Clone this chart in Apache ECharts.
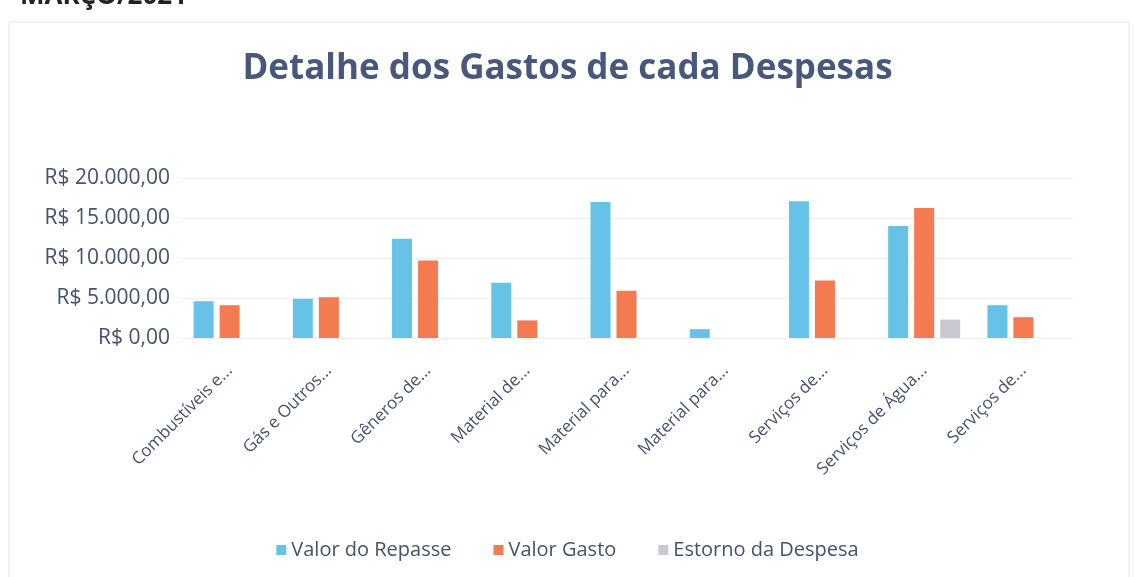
<!DOCTYPE html>
<html>
<head>
<meta charset="utf-8">
<script src="https://cdn.jsdelivr.net/npm/echarts@6/dist/echarts.min.js"></script>
<style>
  html, body { margin: 0; padding: 0; background: #fff; }
  #chart { width: 1135px; height: 577px; }
</style>
</head>
<body>
<div id="chart"></div>
<script>
// categorias (rótulos como aparecem, truncados)
var categorias = ['Combustíveis e...', 'Gás e Outros...', 'Gêneros de...', 'Material de...',
  'Material para...', 'Material para...', 'Serviços de...', 'Serviços de Água...', 'Serviços de...'];

// valores
var valorRepasse = [4600, 4900, 12400, 6900, 17000, 1100, 17100, 14000, 4100];
var valorGasto   = [4100, 5100, 9700, 2200, 5900, null, 7200, 16250, 2600];
var estorno      = [null, null, null, null, null, null, null, 2300, null];

var seriesNames = ['Valor do Repasse', 'Valor Gasto', 'Estorno da Despesa'];
var cores = ['#67c2e8', '#f47a52', '#c9c9d1'];

var fonte = '"Open Sans", sans-serif';
var corTexto = '#44526e';

function moeda(v) {
  var s = String(Math.round(v)).replace(/\B(?=(\d{3})+(?!\d))/g, '.');
  return 'R$ ' + s + ',00';
}

var myChart = echarts.init(document.getElementById('chart'));

var option = {
  backgroundColor: '#fff',
  color: cores,
  animation: false,
  title: {
    text: 'Detalhe dos Gastos de cada Despesas',
    left: 'center',
    top: 47,
    textStyle: { fontFamily: fonte, fontSize: 35, fontWeight: 'bold', color: '#48587a' }
  },
  graphic: [
    {
      type: 'rect',
      shape: { x: 9, y: 22, width: 1120, height: 560 },
      style: { fill: 'none', stroke: '#e6e6e6', lineWidth: 1 }
    },
    {
      // cabeçalho da página, cortado no topo (só a parte legível)
      type: 'text',
      left: 20,
      top: -16,
      style: { text: 'MARÇO/2021', font: 'bold 26px ' + fonte, fill: '#222' }
    }
  ],
  legend: {
    bottom: 12,
    left: 'center',
    itemWidth: 10,
    itemHeight: 10,
    itemGap: 42,
    icon: 'rect',
    textStyle: { fontFamily: fonte, fontSize: 20, color: corTexto },
    data: seriesNames
  },
  grid: { left: 180, right: 62, top: 178, bottom: 239, containLabel: false },
  xAxis: {
    type: 'category',
    data: categorias,
    axisLine: { show: false },
    axisTick: { show: false },
    axisLabel: {
      rotate: 45,
      interval: 0,
      margin: 30,
      fontFamily: fonte,
      fontSize: 17,
      color: corTexto
    }
  },
  yAxis: {
    type: 'value',
    min: 0,
    max: 20000,
    interval: 5000,
    axisLine: { show: false },
    axisTick: { show: false },
    splitLine: { lineStyle: { color: '#efefef' } },
    axisLabel: {
      margin: 10,
      fontFamily: fonte,
      fontSize: 21,
      color: corTexto,
      formatter: moeda
    }
  },
  series: [
    { name: seriesNames[0], type: 'bar', data: valorRepasse, barWidth: 20, barGap: '30%' },
    { name: seriesNames[1], type: 'bar', data: valorGasto, barWidth: 20, barGap: '30%' },
    { name: seriesNames[2], type: 'bar', data: estorno, barWidth: 20, barGap: '30%' }
  ]
};

myChart.setOption(option);
window.onresize = myChart.resize;
</script>
</body>
</html>
